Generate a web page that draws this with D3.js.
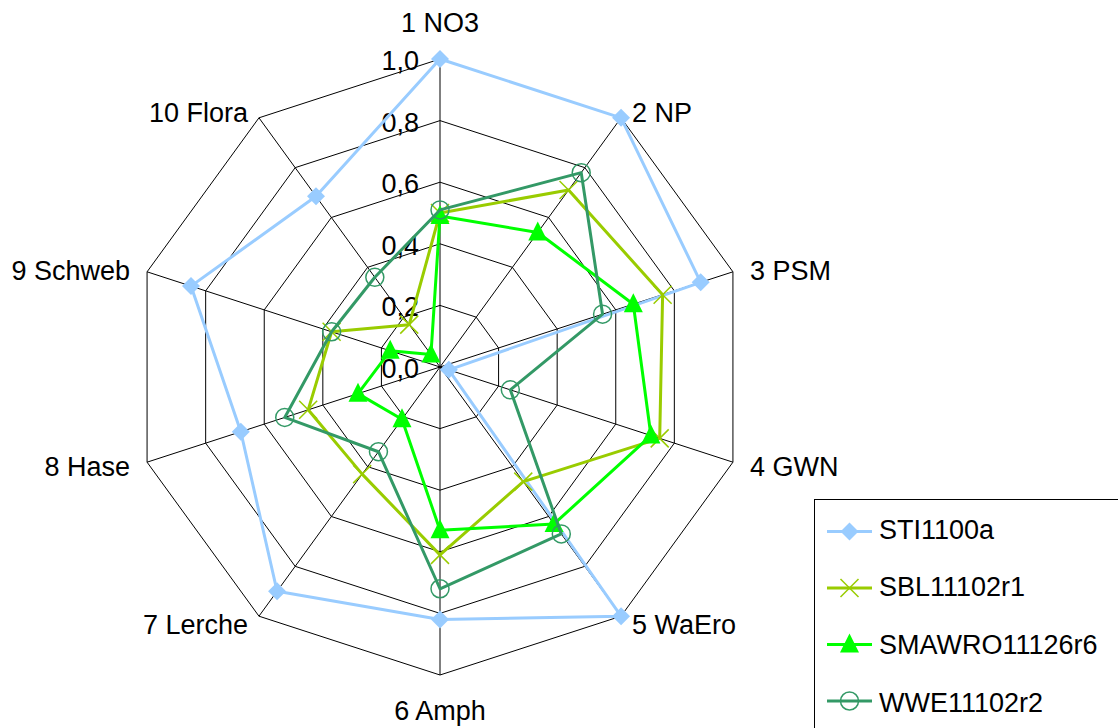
<html>
<head>
<style>
  body { margin: 0; background: #fff; }
  text { font-family: "Liberation Sans", Arial, sans-serif; }
</style>
</head>
<body>
<div id="radar"></div>
<script src="https://d3js.org/d3.v7.min.js"></script>
<script>
// data
var categories = ["1 NO3", "2 NP", "3 PSM", "4 GWN", "5 WaEro", "6 Amph", "7 Lerche", "8 Hase", "9 Schweb", "10 Flora"];
var seriesNames = ["STI1100a", "SBL11102r1", "SMAWRO11126r6", "WWE11102r2"];
var sti    = [1.0, 1.0, 0.89, 0.03, 1.0, 0.82, 0.9, 0.68, 0.85, 0.685];
var sbl    = [0.5, 0.71, 0.76, 0.75, 0.46, 0.61, 0.43, 0.45, 0.37, 0.17];
var smawro = [0.49, 0.54, 0.66, 0.72, 0.63, 0.53, 0.21, 0.28, 0.17, 0.05];
var wwe    = [0.51, 0.78, 0.555, 0.24, 0.67, 0.72, 0.34, 0.53, 0.37, 0.36];
var ticks = [0, 0.2, 0.4, 0.6, 0.8, 1.0];

var W = 1118, H = 728, cx = 440, cy = 367;
var colors = ["#99ccff", "#99cc00", "#00ff00", "#339966"];
var markers = ["diamond", "cross", "triangle", "circle"];
var allSeries = [sti, sbl, smawro, wwe];
var fs = 27;

var svg = d3.select("#radar").append("svg")
  .attr("width", W).attr("height", H);

var r = d3.scaleLinear().domain([0, 1]).range([0, 308]);
var ang = d3.scaleLinear().domain([0, categories.length]).range([0, 2 * Math.PI]);

function px(i, v) { return cx + r(v) * Math.sin(ang(i)); }
function py(i, v) { return cy - r(v) * Math.cos(ang(i)); }

var g = svg.append("g");

// rings
ticks.filter(function(t){ return t > 0; }).forEach(function(t) {
  var pts = categories.map(function(c, i){ return [px(i, t), py(i, t)]; });
  g.append("path")
    .attr("d", d3.line().curve(d3.curveLinearClosed)(pts))
    .attr("fill", "none").attr("stroke", "#000").attr("stroke-width", 1);
});

// spokes
categories.forEach(function(c, i) {
  g.append("line")
    .attr("x1", cx).attr("y1", cy)
    .attr("x2", px(i, 1)).attr("y2", py(i, 1))
    .attr("stroke", "#000").attr("stroke-width", 1);
});

// tick labels
g.selectAll(".tick").data(ticks).enter().append("text")
  .attr("x", cx - 21).attr("y", function(d){ return cy - r(d) + 11; })
  .attr("text-anchor", "end")
  .attr("font-size", fs)
  .text(function(d){ return d3.format(".1f")(d).replace(".", ","); });

// category labels
categories.forEach(function(c, i) {
  var a = ang(i), s = Math.sin(a), co = Math.cos(a);
  var vx = px(i, 1), vy = py(i, 1);
  var x, y, anchor;
  if (Math.abs(s) < 0.01) {
    anchor = "middle"; x = vx;
    y = co > 0 ? vy - 27 : vy + 45;
  } else {
    anchor = s > 0 ? "start" : "end";
    x = vx + (s > 0 ? 1 : -1) * (Math.abs(s) > 0.9 ? 17 : 11);
    y = vy + 11 - 9 * co;
  }
  g.append("text")
    .attr("x", x).attr("y", y)
    .attr("text-anchor", anchor).attr("font-size", fs)
    .text(c);
});

function drawMarker(sel, type, color) {
  if (type === "diamond") {
    sel.append("path").attr("d", "M0,-9L9,0L0,9L-9,0Z").attr("fill", color);
  } else if (type === "cross") {
    sel.append("path").attr("d", "M-9,-9L9,9M-9,9L9,-9")
      .attr("stroke", color).attr("stroke-width", 1.5).attr("fill", "none");
  } else if (type === "triangle") {
    sel.append("path").attr("d", "M0,-11L9.5,8L-9.5,8Z").attr("fill", color);
  } else {
    sel.append("circle").attr("r", 9).attr("fill", "none")
      .attr("stroke", color).attr("stroke-width", 1.5);
  }
}

// series
allSeries.forEach(function(vals, k) {
  var pts = vals.map(function(v, i){ return [px(i, v), py(i, v)]; });
  g.append("path")
    .attr("d", d3.line().curve(d3.curveLinearClosed)(pts))
    .attr("fill", "none").attr("stroke", colors[k]).attr("stroke-width", 3)
    .attr("stroke-linejoin", "round");
  pts.forEach(function(p) {
    var m = g.append("g").attr("transform", "translate(" + p[0] + "," + p[1] + ")");
    drawMarker(m, markers[k], colors[k]);
  });
});

// legend
var lg = svg.append("g");
lg.append("rect").attr("x", 814.5).attr("y", 499.5)
  .attr("width", 320).attr("height", 240)
  .attr("fill", "#fff").attr("stroke", "#000").attr("stroke-width", 1);
seriesNames.forEach(function(n, k) {
  var y = 531.5 + k * 56.5;
  lg.append("line").attr("x1", 827).attr("x2", 872).attr("y1", y).attr("y2", y)
    .attr("stroke", colors[k]).attr("stroke-width", 3);
  var m = lg.append("g").attr("transform", "translate(849.5," + y + ")");
  drawMarker(m, markers[k], colors[k]);
  lg.append("text").attr("x", 879).attr("y", 538.5 + k * 57.8)
    .attr("font-size", fs).text(n);
});
</script>
</body>
</html>
